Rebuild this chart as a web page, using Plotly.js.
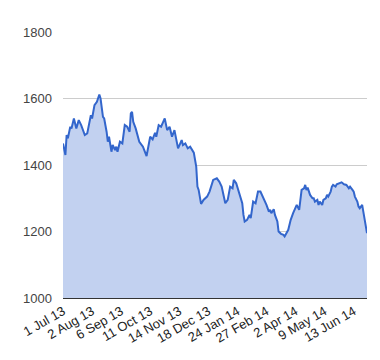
<!DOCTYPE html>
<html>
<head>
<meta charset="utf-8">
<script src="https://cdn.plot.ly/plotly-3.0.1.min.js"></script>
<style>html,body{margin:0;padding:0;background:#fff;}#chart{width:380px;height:360px;}</style>
</head>
<body>
<div id="chart"></div>
<script>
// Trading-day index (0 = 1 Jul 13) and price
const dayIndex = [0,2,3,4,6,7,9,11,13,15,18,20,23,24,26,28,30,31,33,34,36,37,38,40,41,43,44,45,47,49,51,53,55,56,57,58,60,63,66,69,72,74,76,77,79,81,84,86,88,90,92,94,95,98,99,101,103,105,107,108,110,111,112,114,116,119,121,124,127,129,131,134,136,138,140,141,143,146,148,149,150,152,154,155,157,159,161,163,165,167,168,170,171,172,174,175,177,178,180,182,183,186,188,190,192,193,195,196,197,199,200,201,202,204,206,207,208,210,211,212,214,215,217,218,219,221,222,223,225,226,228,229,230,232,233,234,236,237,239,240,241,243,244,245,247,248,250,251];
const price = [1465,1430,1490,1480,1515,1510,1540,1510,1535,1520,1490,1495,1550,1540,1580,1590,1612,1600,1545,1540,1500,1470,1485,1440,1460,1445,1455,1440,1470,1465,1520,1515,1500,1555,1560,1530,1510,1470,1455,1427,1485,1477,1497,1485,1520,1515,1540,1505,1515,1485,1505,1465,1450,1475,1460,1465,1450,1455,1445,1437,1395,1335,1325,1283,1295,1305,1320,1355,1360,1350,1335,1285,1295,1335,1330,1355,1345,1305,1285,1250,1230,1235,1250,1240,1290,1285,1320,1320,1305,1290,1280,1260,1265,1255,1267,1250,1230,1200,1193,1190,1185,1205,1235,1255,1270,1280,1265,1290,1325,1330,1340,1325,1332,1310,1300,1300,1290,1295,1280,1290,1280,1295,1300,1310,1305,1320,1335,1340,1335,1342,1345,1345,1348,1342,1342,1340,1330,1335,1325,1320,1305,1290,1275,1270,1280,1260,1225,1195];
const tickIndex = [0,24,48,72,96,120,144,168,192,216,240];
const tickLabels = ["1 Jul 13","2 Aug 13","6 Sep 13","11 Oct 13","14 Nov 13","18 Dec 13","24 Jan 14","27 Feb 14","2 Apr 14","9 May 14","13 Jun 14"];
const yTicks = [1000,1200,1400,1600,1800];

const trace = {
  x: dayIndex, y: price, type: 'scatter', mode: 'lines',
  line: {color: '#3366cc', width: 2},
  fill: 'tozeroy', fillcolor: 'rgb(194,209,240)',
  hoverinfo: 'skip'
};
const layout = {
  width: 380, height: 360,
  margin: {l: 63, r: 13, t: 32, b: 62},
  paper_bgcolor: '#fff', plot_bgcolor: '#fff',
  showlegend: false,
  font: {family: 'Liberation Sans, Arial, sans-serif', size: 13, color: '#222'},
  xaxis: {
    range: [0, 251], tickmode: 'array', tickvals: tickIndex, ticktext: tickLabels,
    tickangle: -30, showgrid: false, zeroline: false, showline: true,
    linecolor: '#333', linewidth: 1, ticks: '', tickfont: {size: 13, color: '#222'}
  },
  yaxis: {
    range: [1000, 1800], tickmode: 'array', tickvals: yTicks,
    showgrid: true, gridcolor: '#cccccc', gridwidth: 1, zeroline: false,
    showline: false, ticks: '', ticklabelstandoff: 10,
    tickfont: {size: 13, color: '#444'}
  }
};
Plotly.newPlot('chart', [trace], layout, {displayModeBar: false, staticPlot: true});
</script>
</body>
</html>
